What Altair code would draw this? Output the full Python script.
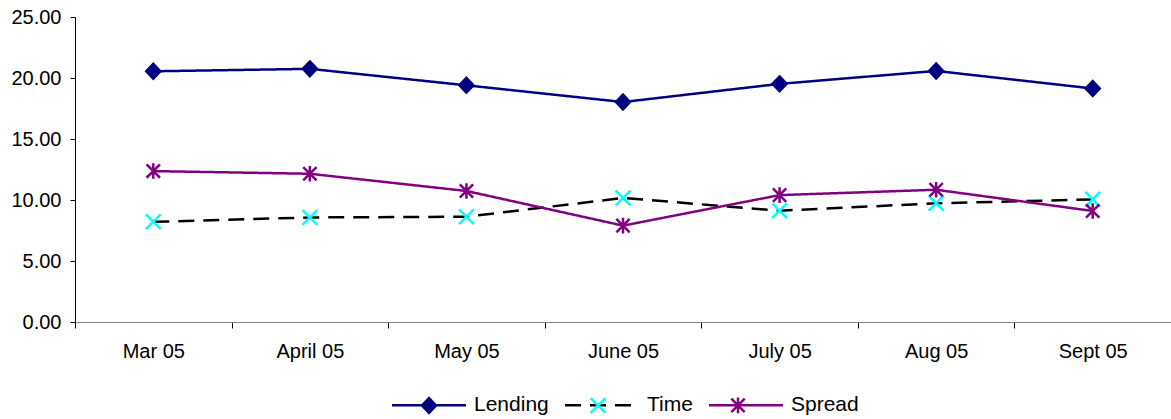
import altair as alt
import pandas as pd

# Monthly interest rates (%)
months = ["Mar 05", "April 05", "May 05", "June 05", "July 05", "Aug 05", "Sept 05"]
lending = [20.55, 20.75, 19.40, 18.03, 19.52, 20.58, 19.14]
time_dep = [8.21, 8.57, 8.63, 10.17, 9.12, 9.73, 10.05]
spread = [12.37, 12.15, 10.74, 7.90, 10.40, 10.84, 9.10]
series_names = ["Lending", "Time", "Spread"]
y_ticks = [0, 5, 10, 15, 20, 25]

rows = []
for name, vals in zip(series_names, [lending, time_dep, spread]):
    for m, v in zip(months, vals):
        rows.append({"month": m, "series": name, "value": v})
df = pd.DataFrame(rows)

NAVY, CYAN, PURPLE, BLACK = "#000080", "#00FFFF", "#800080", "#000000"
FONT = "Liberation Sans"

# marker paths, drawn in the symbol's unit space
DIAMOND = "M0,-0.2L0.19,0L0,0.2L-0.19,0Z"
CROSS = "M-0.2,-0.2L0.2,0.2M-0.2,0.2L0.2,-0.2"
STAR = "M0,-0.21V0.21M-0.18,-0.18L0.18,0.18M-0.18,0.18L0.18,-0.18"
SYM_SIZE = 5476  # 74 px wide legend symbols

x_enc = alt.X(
    "month:N",
    sort=months,
    scale=alt.Scale(type="band", paddingInner=0, paddingOuter=0),
    axis=alt.Axis(
        title=None, labelAngle=0, tickBand="extent", tickSize=6,
        tickColor="#000000", domainColor="#808080", labelPadding=13.5,
        labelFontSize=20, labelFont=FONT, labelColor="#000000",
    ),
)
y_enc = alt.Y(
    "value:Q",
    scale=alt.Scale(domain=[0, 25], nice=False),
    axis=alt.Axis(
        title=None, values=y_ticks, format=".2f", grid=False, tickSize=5,
        tickColor="#000000", domainColor="#000000", labelPadding=9,
        labelFontSize=20, labelFont=FONT, labelColor="#000000",
    ),
)


def legend(**kw):
    return alt.Legend(
        title=None, orient="none", legendX=315.5, legendY=349.5,
        direction="horizontal", symbolSize=SYM_SIZE, symbolStrokeWidth=2.5,
        labelFontSize=21, labelFont=FONT, labelColor="#000000",
        labelOffset=6.5, columnPadding=10, padding=0, symbolOpacity=1, **kw,
    )


# The marker legend is laid over the line legend with the same layout;
# only the line legend's labels are shown.
line_legend = legend(symbolType="stroke")
point_legend = legend(labelOpacity=0)

lines = alt.Chart(df).mark_line(strokeWidth=2.5).encode(
    x=x_enc,
    y=y_enc,
    stroke=alt.Stroke(
        "series:N",
        scale=alt.Scale(domain=series_names, range=[NAVY, BLACK, PURPLE]),
        legend=line_legend,
    ),
    strokeDash=alt.StrokeDash(
        "series:N",
        scale=alt.Scale(domain=series_names, range=[[1, 0], [16, 9], [1, 0]]),
        legend=line_legend,
    ),
)

points = alt.Chart(df).mark_point(size=SYM_SIZE, strokeWidth=2.5, opacity=1).encode(
    x=x_enc,
    y=y_enc,
    shape=alt.Shape(
        "series:N",
        scale=alt.Scale(domain=series_names, range=[DIAMOND, CROSS, STAR]),
        legend=point_legend,
    ),
    stroke=alt.Stroke(
        "series:N",
        scale=alt.Scale(domain=series_names, range=[NAVY, CYAN, PURPLE]),
        legend=point_legend,
    ),
    fill=alt.Fill(
        "series:N",
        scale=alt.Scale(domain=series_names, range=[NAVY, "transparent", "transparent"]),
        legend=point_legend,
    ),
)

chart = (
    alt.layer(lines, points)
    .resolve_scale(stroke="independent", strokeDash="independent",
                   shape="independent", fill="independent")
    .resolve_legend(stroke="independent", strokeDash="independent",
                    shape="independent", fill="independent")
    .properties(
        width=1096, height=305,
        autosize=alt.AutoSizeParams(type="none"),
        padding={"left": 75, "top": 17, "right": 0, "bottom": 97},
        background="#ffffff",
    )
    .configure_view(stroke=None)
)

chart.save("out.html", embed_options={"renderer": "svg", "actions": False})
